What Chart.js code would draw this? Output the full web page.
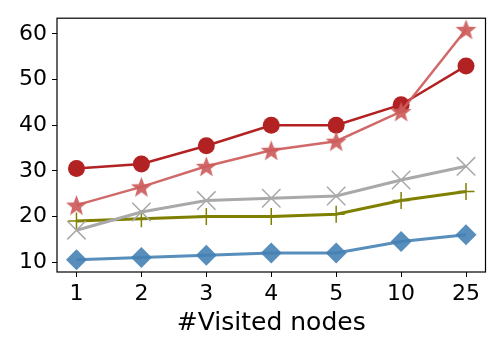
<!DOCTYPE html>
<html>
<head>
<meta charset="utf-8">
<script src="https://cdn.jsdelivr.net/npm/chart.js@4"></script>
<style>
  html, body { margin: 0; padding: 0; background: #fff; }
  #wrap { width: 500px; height: 350px; }
</style>
</head>
<body>
<div id="wrap"><canvas id="myChart" width="500" height="350"></canvas></div>
<script>
const categories = ['1', '2', '3', '4', '5', '10', '25'];
const circleSeries = [30.5, 31.5, 35.5, 40, 40, 44.5, 53];
const starSeries = [22.5, 26.5, 31, 34.5, 36.5, 43, 61];
const xSeries = [17, 21, 23.5, 24, 24.5, 28, 31];
const plusSeries = [19, 19.5, 20, 20, 20.5, 23.5, 25.5];
const diamondSeries = [10.5, 11, 11.5, 12, 12, 14.5, 16];
const yTicks = [10, 20, 30, 40, 50, 60];

const FONT = 'DejaVu Sans';

// filled 5-point star marker
function makeStar(color, size) {
    const c = document.createElement('canvas');
    c.width = size; c.height = size;
    const g = c.getContext('2d');
    const cx = size / 2, cy = size / 2, R = size / 2 - 0.5, r = R * 0.42;
    g.beginPath();
    for (let i = 0; i < 10; i++) {
        const rad = i % 2 === 0 ? R : r;
        const a = -Math.PI / 2 + i * Math.PI / 5;
        const px = cx + rad * Math.cos(a), py = cy + rad * Math.sin(a) + 1;
        if (i === 0) g.moveTo(px, py); else g.lineTo(px, py);
    }
    g.closePath();
    g.fillStyle = color;
    g.fill();
    return c;
}

const toXY = arr => arr.map((v, i) => ({ x: i, y: v }));

const frame = {
    id: 'frame',
    afterDraw(chart) {
        const { ctx, chartArea: a } = chart;
        ctx.save();
        ctx.strokeStyle = '#000';
        ctx.lineWidth = 1.2;
        ctx.strokeRect(a.left, a.top, a.right - a.left, a.bottom - a.top);
        ctx.restore();
    }
};

document.addEventListener('DOMContentLoaded', function () {
    const ctx = document.getElementById('myChart').getContext('2d');
    const star = makeStar('rgba(205,92,92,0.92)', 23);

    new Chart(ctx, {
        type: 'line',
        data: {
            datasets: [
                {
                    data: toXY(diamondSeries), order: 5,
                    borderColor: 'rgba(70,130,180,0.9)', backgroundColor: 'rgba(70,130,180,0.9)',
                    borderWidth: 3, pointStyle: 'rectRot', pointRadius: 10.5, pointBorderWidth: 0
                },
                {
                    data: toXY(plusSeries), order: 4,
                    borderColor: '#808000', backgroundColor: '#808000',
                    borderWidth: 3, pointStyle: 'cross', pointRadius: 8.5, pointBorderWidth: 1.5
                },
                {
                    data: toXY(xSeries), order: 3,
                    borderColor: '#a9a9a9', backgroundColor: '#a9a9a9',
                    borderWidth: 3, pointStyle: 'crossRot', pointRadius: 13, pointBorderWidth: 1.5
                },
                {
                    data: toXY(circleSeries), order: 2,
                    borderColor: '#b22222', backgroundColor: '#b22222',
                    borderWidth: 2.5, pointStyle: 'circle', pointRadius: 8.5, pointBorderWidth: 0
                },
                {
                    data: toXY(starSeries), order: 1,
                    borderColor: 'rgba(205,92,92,0.92)', backgroundColor: 'rgba(205,92,92,0.92)',
                    borderWidth: 2.5, pointStyle: star, pointRadius: 10
                }
            ]
        },
        options: {
            responsive: false,
            animation: false,
            events: [],
            layout: { padding: { top: 13, right: 14, left: 0, bottom: 0 } },
            plugins: { legend: { display: false }, tooltip: { enabled: false } },
            scales: {
                x: {
                    type: 'linear', min: -0.3, max: 6.3,
                    afterBuildTicks: s => { s.ticks = categories.map((_, i) => ({ value: i })); },
                    afterFit: s => { s.height = 78; },
                    border: { display: false },
                    grid: { drawOnChartArea: false, tickLength: 5, tickColor: '#000', tickWidth: 1 },
                    ticks: {
                        color: '#000', font: { family: FONT, size: 22 }, padding: 4,
                        maxRotation: 0, autoSkip: false,
                        callback: v => categories[v]
                    },
                    title: {
                        display: true, text: '#Visited nodes', color: '#000',
                        font: { family: FONT, size: 25 }, padding: { top: 0, bottom: 12 }
                    }
                },
                y: {
                    min: 7.84, max: 63.46,
                    afterBuildTicks: s => { s.ticks = yTicks.map(v => ({ value: v })); },
                    afterFit: s => { s.width = 57; },
                    border: { display: false },
                    grid: { drawOnChartArea: false, tickLength: 5, tickColor: '#000', tickWidth: 1 },
                    ticks: { color: '#000', font: { family: FONT, size: 22 }, padding: 5 }
                }
            }
        },
        plugins: [frame]
    });
});
</script>
</body>
</html>
